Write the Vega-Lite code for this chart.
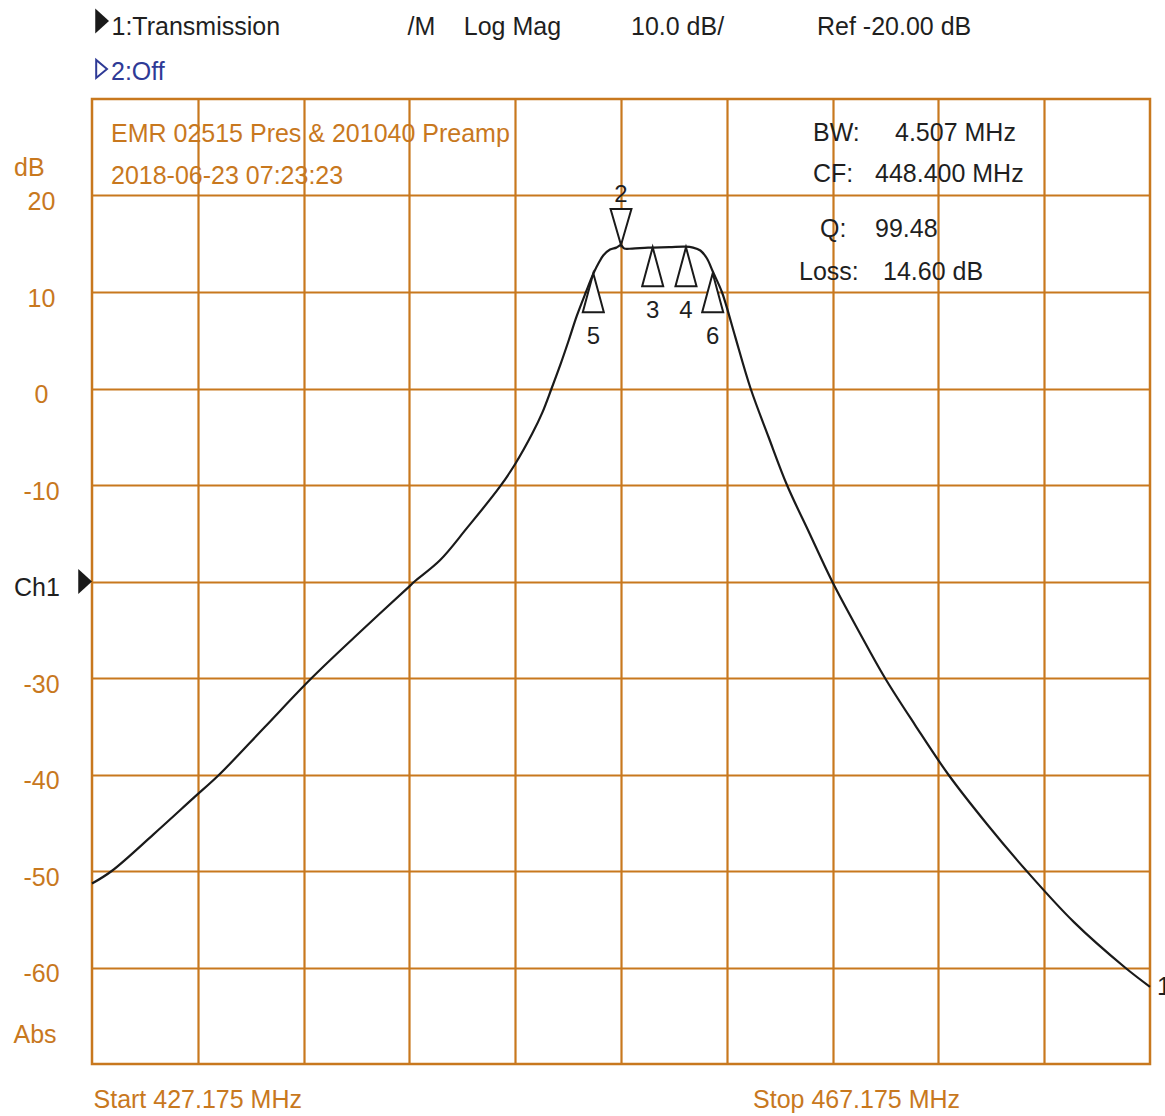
{
  "$schema": "https://vega.github.io/schema/vega-lite/v6.json",
  "width": 1058,
  "height": 965,
  "autosize": {"type": "none"},
  "padding": {"left": 92, "top": 99, "right": 15, "bottom": 52},
  "background": "white",
  "config": {
    "font": "Liberation Sans",
    "view": {"stroke": "#c8781e", "strokeWidth": 2.5}
  },
  "datasets": {
    "trace": [
      {"freq": 427.175, "dB": -51.3},
      {"freq": 427.92, "dB": -50.0},
      {"freq": 429.5, "dB": -46.2},
      {"freq": 431.005, "dB": -42.45},
      {"freq": 431.99, "dB": -40.0},
      {"freq": 433.7, "dB": -35.1},
      {"freq": 435.48, "dB": -30.0},
      {"freq": 437.4, "dB": -25.0},
      {"freq": 439.175, "dB": -20.5},
      {"freq": 439.37, "dB": -20.0},
      {"freq": 440.33, "dB": -17.8},
      {"freq": 441.34, "dB": -14.5},
      {"freq": 442.59, "dB": -10.2},
      {"freq": 443.18, "dB": -7.8},
      {"freq": 443.815, "dB": -4.7},
      {"freq": 444.2, "dB": -2.5},
      {"freq": 444.55, "dB": 0.0},
      {"freq": 444.9, "dB": 2.6},
      {"freq": 445.2, "dB": 5.0},
      {"freq": 445.5, "dB": 7.5},
      {"freq": 445.85, "dB": 10.0},
      {"freq": 446.13, "dB": 11.9},
      {"freq": 446.35, "dB": 13.1},
      {"freq": 446.51, "dB": 13.8},
      {"freq": 446.76, "dB": 14.4},
      {"freq": 447.0, "dB": 14.6},
      {"freq": 447.175, "dB": 14.85},
      {"freq": 447.3, "dB": 14.5},
      {"freq": 447.6, "dB": 14.5},
      {"freq": 448.2, "dB": 14.6},
      {"freq": 449.0, "dB": 14.65},
      {"freq": 449.6, "dB": 14.7},
      {"freq": 449.9, "dB": 14.6},
      {"freq": 450.175, "dB": 14.3},
      {"freq": 450.42, "dB": 13.5},
      {"freq": 450.65, "dB": 12.1},
      {"freq": 450.99, "dB": 10.0},
      {"freq": 451.175, "dB": 8.4},
      {"freq": 451.5, "dB": 5.3},
      {"freq": 452.075, "dB": 0.0},
      {"freq": 452.75, "dB": -5.0},
      {"freq": 453.45, "dB": -10.0},
      {"freq": 454.3, "dB": -15.0},
      {"freq": 455.16, "dB": -20.0},
      {"freq": 456.175, "dB": -25.2},
      {"freq": 457.155, "dB": -30.0},
      {"freq": 458.3, "dB": -34.9},
      {"freq": 459.55, "dB": -40.0},
      {"freq": 461.0, "dB": -45.1},
      {"freq": 462.51, "dB": -50.0},
      {"freq": 464.3, "dB": -55.3},
      {"freq": 466.23, "dB": -60.0},
      {"freq": 467.175, "dB": -62.0}
    ],
    "markers": [
      {"freq": 447.175, "dB": 14.87, "dir": "down", "label": "2"},
      {"freq": 448.373, "dB": 14.63, "dir": "up", "label": "3"},
      {"freq": 449.632, "dB": 14.63, "dir": "up", "label": "4"},
      {"freq": 446.128, "dB": 11.94, "dir": "up", "label": "5"},
      {"freq": 450.642, "dB": 11.94, "dir": "up", "label": "6"}
    ],
    "indicators": [
      {"freq": 427.818, "dB": 38.08, "name": "trace1"},
      {"freq": 427.742, "dB": 33.11, "name": "trace2"},
      {"freq": 427.175, "dB": -20.0, "name": "ch1"}
    ],
    "labels": [
      {"freq": 427.912, "dB": 37.46, "text": "1:Transmission", "role": "readout"},
      {"freq": 439.107, "dB": 37.46, "text": "/M", "role": "readout"},
      {"freq": 441.232, "dB": 37.46, "text": "Log Mag", "role": "readout"},
      {"freq": 447.553, "dB": 37.46, "text": "10.0 dB/", "role": "readout"},
      {"freq": 454.585, "dB": 37.46, "text": "Ref -20.00 dB", "role": "readout"},
      {"freq": 427.893, "dB": 32.80, "text": "2:Off", "role": "channel2"},
      {"freq": 427.893, "dB": 26.42, "text": "EMR 02515 Pres & 201040 Preamp", "role": "annotation"},
      {"freq": 427.893, "dB": 22.07, "text": "2018-06-23 07:23:23", "role": "annotation"},
      {"freq": 424.226, "dB": 22.80, "text": "dB", "role": "annotation"},
      {"freq": 424.207, "dB": -66.98, "text": "Abs", "role": "annotation"},
      {"freq": 424.226, "dB": -20.67, "text": "Ch1", "role": "readout"},
      {"freq": 427.232, "dB": -73.78, "text": "Start 427.175 MHz", "role": "annotation"},
      {"freq": 452.166, "dB": -73.78, "text": "Stop 467.175 MHz", "role": "annotation"},
      {"freq": 454.434, "dB": 26.48, "text": "BW:", "role": "readout"},
      {"freq": 457.535, "dB": 26.48, "text": "4.507 MHz", "role": "readout"},
      {"freq": 454.434, "dB": 22.18, "text": "CF:", "role": "readout"},
      {"freq": 456.777, "dB": 22.18, "text": "448.400 MHz", "role": "readout"},
      {"freq": 454.699, "dB": 16.48, "text": "Q:", "role": "readout"},
      {"freq": 456.777, "dB": 16.48, "text": "99.48", "role": "readout"},
      {"freq": 453.904, "dB": 12.12, "text": "Loss:", "role": "readout"},
      {"freq": 457.081, "dB": 12.12, "text": "14.60 dB", "role": "readout"},
      {"freq": 467.44, "dB": -61.97, "text": "1", "role": "readout"}
    ]
  },
  "encoding": {
    "x": {
      "field": "freq",
      "type": "quantitative",
      "scale": {"domain": [427.175, 467.175], "zero": false, "nice": false},
      "axis": {
        "values": [431.175, 435.175, 439.175, 443.175, 447.175, 451.175, 455.175, 459.175, 463.175],
        "labels": false,
        "ticks": false,
        "domain": false,
        "title": null,
        "grid": true,
        "gridColor": "#c8781e",
        "gridWidth": 2.2,
        "gridOpacity": 1
      }
    },
    "y": {
      "field": "dB",
      "type": "quantitative",
      "scale": {"domain": [-70, 30], "zero": false, "nice": false},
      "axis": {
        "values": [20, 10, 0, -10, -20, -30, -40, -50, -60],
        "labelExpr": "datum.value === -20 ? '' : '' + datum.value",
        "labelColor": "#c8781e",
        "labelFont": "Liberation Sans",
        "labelFontSize": 25,
        "labelAlign": "center",
        "labelBaseline": "middle",
        "labelPadding": 51,
        "labelOffset": 6,
        "ticks": false,
        "tickSize": 0,
        "domain": false,
        "title": null,
        "grid": true,
        "gridColor": "#c8781e",
        "gridWidth": 2.2,
        "gridOpacity": 1
      }
    }
  },
  "layer": [
    {
      "data": {"name": "labels"},
      "mark": {"type": "text", "align": "left", "baseline": "middle", "fontSize": 25, "font": "Liberation Sans"},
      "encoding": {
        "text": {"field": "text", "type": "nominal"},
        "color": {
          "field": "role",
          "type": "nominal",
          "scale": {"domain": ["readout", "annotation", "channel2"], "range": ["#1f1f1f", "#c8781e", "#2e3a96"]},
          "legend": null
        }
      }
    },
    {
      "data": {"name": "trace"},
      "mark": {"type": "line", "color": "#1a1a1a", "strokeWidth": 2.2, "interpolate": "catmull-rom"},
      "encoding": {}
    },
    {
      "data": {"name": "markers"},
      "transform": [{"filter": "datum.dir === 'up'"}],
      "mark": {
        "type": "point",
        "shape": "M0,0 L-0.27,1 L0.27,1 Z",
        "size": 6084,
        "filled": false,
        "fill": "white",
        "fillOpacity": 1,
        "stroke": "#1a1a1a",
        "strokeWidth": 2,
        "opacity": 1
      }
    },
    {
      "data": {"name": "markers"},
      "transform": [{"filter": "datum.dir === 'down'"}],
      "mark": {
        "type": "point",
        "shape": "M0,0 L-0.29,-1 L0.29,-1 Z",
        "size": 5184,
        "filled": false,
        "fill": "white",
        "fillOpacity": 1,
        "stroke": "#1a1a1a",
        "strokeWidth": 2,
        "opacity": 1
      }
    },
    {
      "data": {"name": "markers"},
      "transform": [{"filter": "datum.dir === 'up'"}],
      "mark": {"type": "text", "align": "center", "baseline": "middle", "fontSize": 24, "dy": 64, "color": "#1f1f1f"},
      "encoding": {"text": {"field": "label", "type": "nominal"}}
    },
    {
      "data": {"name": "markers"},
      "transform": [{"filter": "datum.dir === 'down'"}],
      "mark": {"type": "text", "align": "center", "baseline": "middle", "fontSize": 24, "dy": -50, "color": "#1f1f1f"},
      "encoding": {"text": {"field": "label", "type": "nominal"}}
    },
    {
      "data": {"name": "indicators"},
      "transform": [{"filter": "datum.name !== 'trace2'"}],
      "mark": {
        "type": "point",
        "shape": "M0,0 L-1.1,-1 L-1.1,1 Z",
        "size": 625,
        "filled": true,
        "color": "#1a1a1a",
        "opacity": 1
      }
    },
    {
      "data": {"name": "indicators"},
      "transform": [{"filter": "datum.name === 'trace2'"}],
      "mark": {
        "type": "point",
        "shape": "M0,0 L-1.2,-1 L-1.2,1 Z",
        "size": 324,
        "filled": false,
        "fill": "white",
        "stroke": "#2e3a96",
        "strokeWidth": 2,
        "opacity": 1
      }
    }
  ]
}
